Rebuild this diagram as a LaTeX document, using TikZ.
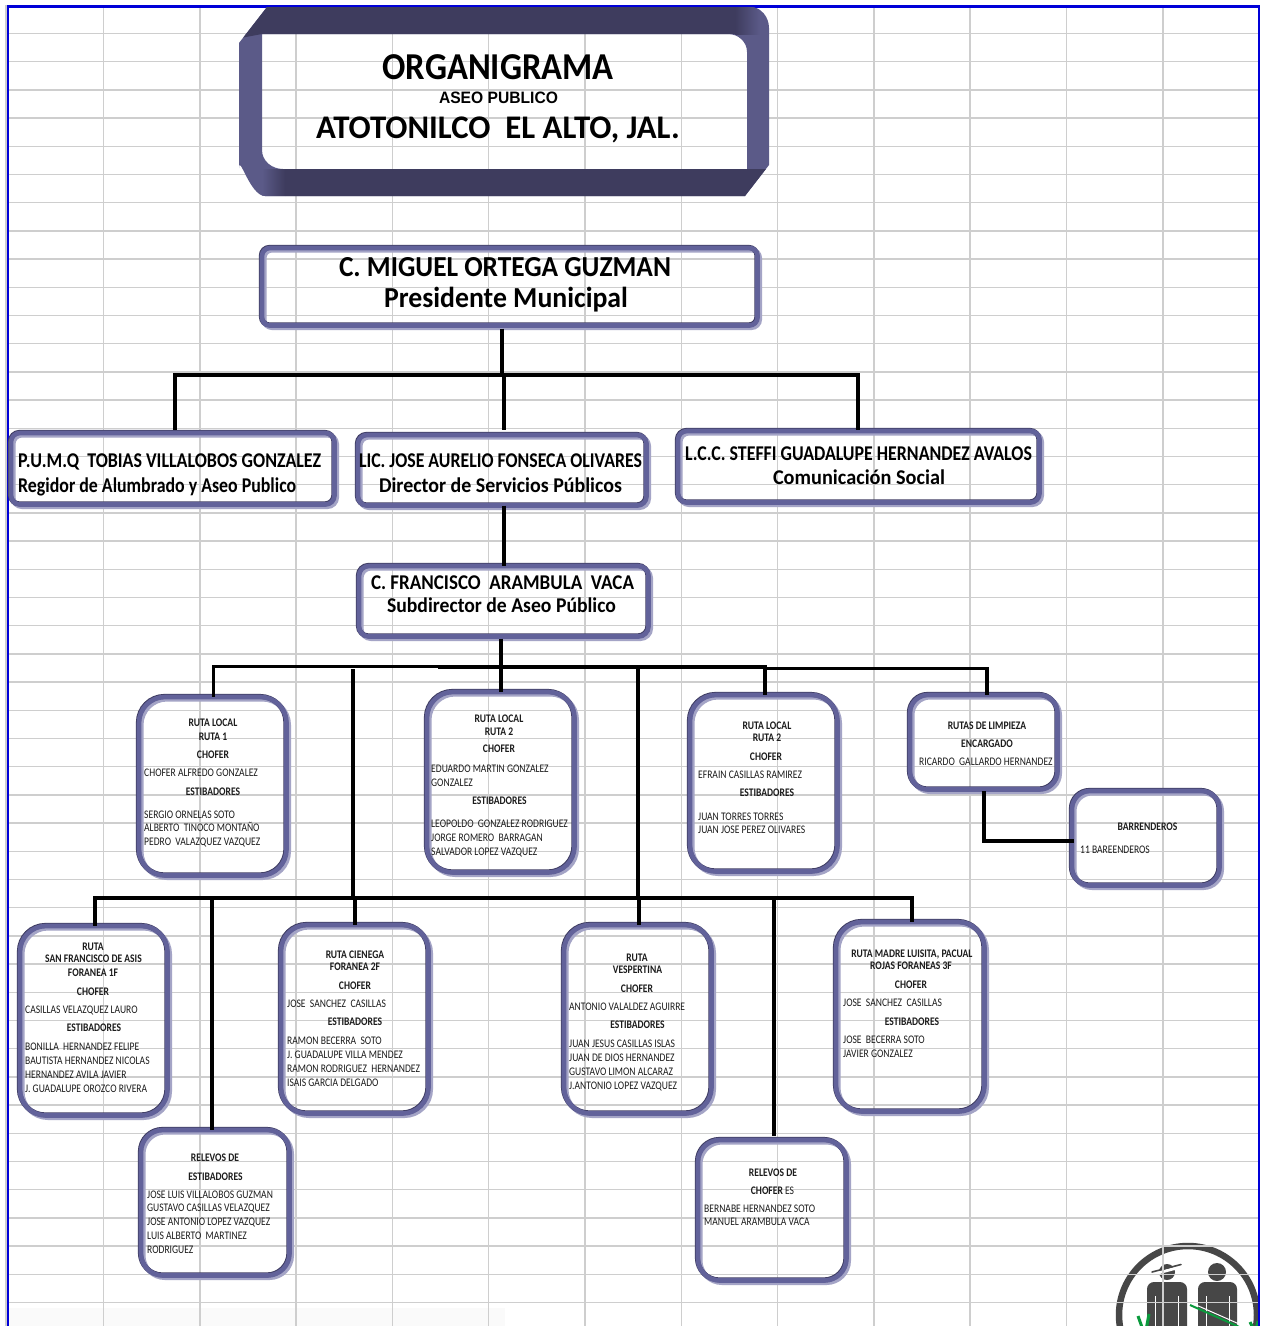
\documentclass[tikz,border=0pt]{standalone}
\usepackage{fontspec}
\setmainfont{Carlito}
\newfontfamily\smallf[FakeStretch=0.825]{Carlito}
\newfontfamily\arialf{Liberation Sans}
\definecolor{gridc}{HTML}{CECECE}
\definecolor{blueb}{HTML}{0000D8}
\definecolor{boxm}{HTML}{62629A}
\definecolor{boxd}{HTML}{3F3D63}
\definecolor{boxs}{HTML}{A4A4C6}
\definecolor{bandl}{HTML}{5B5A88}
\definecolor{bandd}{HTML}{3E3C5E}
\definecolor{inkc}{HTML}{1C1C1C}
\definecolor{logoc}{HTML}{474747}
\definecolor{logog}{HTML}{0A9A3C}
\newcount\tcnt
\newsavebox\fitbox
% stretch text to an exact width
\newcommand\fitw[2]{\sbox\fitbox{#2}\pgfmathsetmacro\fitr{#1/\the\wd\fitbox}\scalebox{\fitr}[1]{\usebox\fitbox}}
% headings: \hd{anchor}{x}{y of cap centre}{width}{size}{text}
\newcommand\hd[6]{\global\advance\tcnt by 1\pgfmathsetmacro\hy{#3+.32*#5}\node[anchor=#1,inner sep=0pt,text=black] (t\the\tcnt) at (#2,\hy) {\fontsize{#5}{#5}\selectfont\bfseries\fitw{#4}{#6}};}
% small lines
\newcommand\lnb[3]{\global\advance\tcnt by 1\pgfmathsetmacro\hy{#2+3.7}\node[smalltext,font=\fontsize{11.6}{12}\smallf\bfseries] (t\the\tcnt) at (#1,\hy) {#3};}
\newcommand\lnr[3]{\global\advance\tcnt by 1\pgfmathsetmacro\hy{#2+3.7}\node[smalltext,anchor=base west,font=\fontsize{11.6}{12}\smallf] (t\the\tcnt) at (#1,\hy) {#3};}
% boxes: \bx{name}{x1}{y1}{x2}{y2}{radius}
\newcommand\bx[6]{%
 \pgfmathsetmacro\xa{#2+3}\pgfmathsetmacro\ya{#3+3}\pgfmathsetmacro\xb{#4-4.5}\pgfmathsetmacro\yb{#5-4.5}%
 \pgfmathsetmacro\xc{(\xa+\xb)/2}\pgfmathsetmacro\yc{(\ya+\yb)/2}%
 \pgfmathsetmacro\wid{\xb-\xa}\pgfmathsetmacro\hei{\yb-\ya}%
 \draw[boxs,line width=5pt,rounded corners=#6pt] (\xa+2,\ya+2) rectangle (\xb+2,\yb+2);
 \draw[boxd,line width=5pt,rounded corners=#6pt] (\xa-.6,\ya-.6) rectangle (\xb-.6,\yb-.6);
 \node[boxnode,rounded corners=#6pt,minimum width=\wid pt,minimum height=\hei pt] (#1) at (\xc,\yc) {};
}
\tikzset{
 boxnode/.style={draw=boxm,line width=4.6pt,inner sep=0pt,outer sep=0pt,fill=none,shape=rectangle},
 smalltext/.style={inner sep=0pt,anchor=base,text=inkc},
 conn/.style={draw=black,line width=3.4pt},
 connthin/.style={draw=black,line width=3.2pt},
 gridl/.style={draw=gridc,line width=1.5pt},
 logol/.style={draw=logoc,line cap=round},
}
\begin{document}
\begin{tikzpicture}[x=1pt,y=-1pt]
\useasboundingbox (0,0) rectangle (1261,1326);
\fill[white] (0,0) rectangle (1261,1326);
% logo
\begin{scope}
 \clip (0,0) rectangle (1259,1326);
 \draw[logoc,line width=6.5pt] (1188,1315) circle (69);
 % left person
 \fill[logoc] (1167,1272) circle (8);
 \draw[white,line width=3pt] (1152,1274.5) -- (1182,1266.5);
 \draw[logol,line width=1.6pt] (1152,1272) -- (1181,1264.5);
 \fill[logoc,rounded corners=7pt] (1147,1340) -- (1147,1282) -- (1187,1282) -- (1187,1340) -- cycle;
 \draw[white,line width=1pt] (1155,1296) -- (1155,1330);
 \draw[white,line width=1pt] (1178,1296) -- (1178,1330);
 % right person
 \fill[logoc] (1217,1272) circle (9);
 \fill[logoc,rounded corners=7pt] (1198,1340) -- (1198,1282) -- (1237,1282) -- (1237,1340) -- cycle;
 \draw[white,line width=1pt] (1206,1296) -- (1206,1330);
 \draw[white,line width=1pt] (1229,1296) -- (1229,1330);
 % green marks
 \draw[logog,line width=2pt] (1190,1305) -- (1246,1330);
 \draw[white,line width=1pt] (1195,1304.5) -- (1246,1327);
 \draw[logog,line width=3pt] (1138,1316) -- (1143,1330);
 \draw[logog,line width=3pt] (1149,1314) -- (1146,1330);
 \draw[logog,line width=3pt] (1250,1322) -- (1254,1330);
 \draw[logog,line width=3pt] (1258,1321) -- (1256,1330);
\end{scope}
% faint band at the foot
\fill[black!2] (9,1308) rectangle (505,1326);
% grid
\foreach \i in {0,...,46}{\draw[gridl] (6,5.3+28.2*\i) -- (1259,5.3+28.2*\i);}
\foreach \i in {0,...,11}{\draw[gridl] (103.5+96.3*\i,5) -- (103.5+96.3*\i,1326);}
\draw[gridl] (6,5) -- (6,1326);
% page frame
\draw[blueb,line width=2.2pt] (8,1326) -- (8,6.5) -- (1259,6.5) -- (1259,1326);
% title frame
\begin{scope}
 \clip (267,7) -- (750,7) to[out=0,in=90] (769,28) -- (769,165) -- (745,196) -- (265,196) to[out=180,in=90] (239,168) -- (239,43) -- cycle
       (262,34) -- (262,150) to[out=270,in=180] (283,169) -- (747,169) -- (747,52) to[out=90,in=0] (728,34) -- cycle;
 \fill[bandl] (230,0) rectangle (780,200);
 \fill[bandd] (230,0) -- (735,0) -- (735,34) -- (262,34) -- (230,40) -- cycle;
 \shade[left color=bandd,right color=bandl] (735,0) rectangle (760,34);
 \fill[bandd] (285,169) rectangle (780,200);
 \shade[left color=bandl,right color=bandd] (262,169) rectangle (285,200);
\end{scope}
% boxes
\bx{pres}{259}{245}{762}{330}{8}
\bx{regidor}{8}{430}{339}{509}{9}
\bx{director}{355}{432}{651}{510}{9}
\bx{social}{675}{428}{1044}{507}{9}
\bx{subdir}{356}{563}{653}{641}{10}
\bx{rutaA}{136}{694}{291}{880}{26}
\bx{rutaB}{424}{689}{579}{877}{26}
\bx{rutaC}{687}{692}{842}{876}{26}
\bx{limpieza}{907}{692}{1062}{794}{18}
\bx{barr}{1069}{788}{1224}{890}{18}
\bx{sanfran}{17}{923}{172}{1120}{26}
\bx{cienega}{278}{922}{433}{1118}{26}
\bx{vesper}{561}{922}{716}{1118}{26}
\bx{madre}{833}{919}{989}{1116}{26}
\bx{relest}{138}{1127}{294}{1280}{22}
\bx{relcho}{695}{1137}{851}{1285}{22}
% junctions
\coordinate (jA) at (502,375);
\coordinate (jC) at (353,898);
\coordinate (jD) at (638,898);
% connectors, upper tree
\draw[conn,shorten <=3pt] (pres.south -| jA) -- (jA);
\coordinate (dA) at (175,375);
\coordinate (dB) at (504,375);
\coordinate (dC) at (858,375);
\draw[conn,line cap=rect] (dA) -- (dC);
\draw[conn,shorten >=3pt] (dA) -- (dA |- regidor.north);
\draw[conn,shorten >=5pt] (dB) -- (dB |- director.north);
\draw[conn,shorten >=1pt] (dC) -- (dC |- social.north);
\draw[conn] (dB |- director.south) -- (dB |- subdir.north);
\coordinate (dS) at (501,667);
\draw[conn,shorten <=2pt] (dS |- subdir.south) -- (dS);
% branch bar
\coordinate (bA) at (213.5,666.2);
\coordinate (bB) at (440,667);
\coordinate (bC) at (765,667);
\coordinate (bD) at (987,668.2);
\draw[connthin,line cap=rect] (bA) -- (bB |- bA);
\draw[conn,line cap=rect] (bB) -- (bC);
\draw[connthin,line cap=rect] (bC |- bD) -- (bD);
\draw[connthin] (bA) -- (bA |- rutaA.north);
\draw[conn] (dS) -- (dS |- rutaB.north);
\draw[conn] (bC) -- (bC |- rutaC.north);
\draw[connthin] (bD) -- (bD |- limpieza.north);
\coordinate (uC) at (353,669);
\coordinate (uD) at (638,668);
\draw[conn] (uC) -- (jC);
\draw[conn] (uD) -- (jD);
% lower bar
\coordinate (lA) at (95,898);
\coordinate (lB) at (212,898);
\coordinate (lC) at (355,898);
\coordinate (lD) at (639,898);
\coordinate (lE) at (774,898);
\coordinate (lF) at (912,898);
\draw[conn,line cap=rect] (lA) -- (lF);
\draw[conn] (lA) -- (lA |- sanfran.north);
\draw[conn] (lB) -- (lB |- relest.north);
\draw[conn] (lC) -- (lC |- cienega.north);
\draw[conn] (lD) -- (lD |- vesper.north);
\draw[conn,shorten >=4pt] (lE) -- (lE |- relcho.north);
\draw[conn] (lF) -- (lF |- madre.north);
% limpieza to barrenderos
\coordinate (kA) at (984,841);
\draw[conn,line cap=rect,shorten <=3pt] (kA |- limpieza.south) -- (kA) -- (barr.west |- kA);
% title text
\global\tcnt=0
\hd{base}{498}{67}{231}{38}{ORGANIGRAMA}
\node[inner sep=0pt,anchor=base,text=black] (aseo) at (498.5,103.5) {\fontsize{16.5}{17}\arialf\bfseries\fitw{119}{ASEO PUBLICO}};
\hd{base}{498}{128}{364}{33}{ATOTONILCO\ \ EL ALTO, JAL.}
\hd{base}{505}{267.5}{332}{29}{C. MIGUEL ORTEGA GUZMAN}
\hd{base}{506}{298}{244}{29}{Presidente Municipal}
\hd{base west}{18}{460.5}{303}{21}{P.U.M.Q\ \ TOBIAS VILLALOBOS GONZALEZ}
\hd{base west}{18}{485.5}{278}{21}{Regidor de Alumbrado y Aseo Publico}
\hd{base}{500.5}{461}{283}{21}{LIC. JOSE AURELIO FONSECA OLIVARES}
\hd{base}{500.5}{486}{243}{21}{Director de Servicios Públicos}
\hd{base}{858.5}{453.5}{347}{21}{L.C.C. STEFFI GUADALUPE HERNANDEZ AVALOS}
\hd{base}{859}{478}{172}{21}{Comunicación Social}
\hd{base}{502.5}{582.5}{263}{21}{C. FRANCISCO\ \ ARAMBULA\ \ VACA}
\hd{base}{501.5}{606}{229}{21}{Subdirector de Aseo Público}
% ruta local 1
\lnb{213}{723}{RUTA LOCAL}\lnb{213}{736.5}{RUTA 1}\lnb{213}{755}{CHOFER}
\lnr{144}{772.5}{CHOFER ALFREDO GONZALEZ}\lnb{213}{791.5}{ESTIBADORES}
\lnr{144}{814.5}{SERGIO ORNELAS SOTO}\lnr{144}{827.5}{ALBERTO\ \ TINOCO MONTAÑO}\lnr{144}{841.5}{PEDRO\ \ VALAZQUEZ VAZQUEZ}
% ruta local 2
\lnb{499}{718.5}{RUTA LOCAL}\lnb{499}{731.5}{RUTA 2}\lnb{499}{749}{CHOFER}
\lnr{431}{768.5}{EDUARDO MARTIN GONZALEZ}\lnr{431}{782.5}{GONZALEZ}\lnb{499.5}{800.5}{ESTIBADORES}
\lnr{431}{823.5}{LEOPOLDO\ \ GONZALEZ RODRIGUEZ}\lnr{431}{837.5}{JORGE ROMERO\ \ BARRAGAN}\lnr{431}{851.5}{SALVADOR LOPEZ VAZQUEZ}
% ruta local 3
\lnb{767}{725.5}{RUTA LOCAL}\lnb{767}{737.5}{RUTA 2}\lnb{766}{756.5}{CHOFER}
\lnr{698}{774.5}{EFRAIN CASILLAS RAMIREZ}\lnb{767}{792.5}{ESTIBADORES}
\lnr{698}{816.5}{JUAN TORRES TORRES}\lnr{698}{829.5}{JUAN JOSE PEREZ OLIVARES}
% limpieza
\lnb{987}{725.5}{RUTAS DE LIMPIEZA}\lnb{987}{743.5}{ENCARGADO}\lnr{919}{761.5}{RICARDO\ \ GALLARDO HERNANDEZ}
% barrenderos
\lnb{1147.5}{826.5}{BARRENDEROS}\lnr{1080}{849.5}{11 BAREENDEROS}
% san francisco
\lnb{93}{946.5}{RUTA}\lnb{93.5}{958.5}{SAN FRANCISCO DE ASIS}\lnb{93}{972.5}{FORANEA 1F}\lnb{93}{991.5}{CHOFER}
\lnr{25}{1009.5}{CASILLAS VELAZQUEZ LAURO}\lnb{94}{1027.5}{ESTIBADORES}
\lnr{25}{1046.5}{BONILLA\ \ HERNANDEZ FELIPE}\lnr{25}{1060.5}{BAUTISTA HERNANDEZ NICOLAS}\lnr{25}{1074.5}{HERNANDEZ AVILA JAVIER}\lnr{25}{1088.5}{J. GUADALUPE OROZCO RIVERA}
% cienega
\lnb{355}{954.5}{RUTA CIENEGA}\lnb{355}{966.5}{FORANEA 2F}\lnb{355}{985.5}{CHOFER}
\lnr{287}{1003.5}{JOSE\ \ SANCHEZ\ \ CASILLAS}\lnb{355}{1021.5}{ESTIBADORES}
\lnr{287}{1040.5}{RAMON BECERRA\ \ SOTO}\lnr{287}{1054.5}{J. GUADALUPE VILLA MENDEZ}\lnr{287}{1068.5}{RAMON RODRIGUEZ\ \ HERNANDEZ}\lnr{287}{1082.5}{ISAIS GARCIA DELGADO}
% relevos estibadores
\lnb{215}{1157.5}{RELEVOS DE}\lnb{215.5}{1176.5}{ESTIBADORES}
\lnr{147}{1194.5}{JOSE LUIS VILLALOBOS GUZMAN}\lnr{147}{1207.5}{GUSTAVO CASILLAS VELAZQUEZ}\lnr{147}{1221.5}{JOSE ANTONIO LOPEZ VAZQUEZ}\lnr{147}{1235.5}{LUIS ALBERTO\ \ MARTINEZ}\lnr{147}{1249.5}{RODRIGUEZ}
% vespertina
\lnb{637}{957.5}{RUTA}\lnb{637.5}{969.5}{VESPERTINA}\lnb{637}{988.5}{CHOFER}
\lnr{569}{1006.5}{ANTONIO VALALDEZ AGUIRRE}\lnb{637.5}{1024.5}{ESTIBADORES}
\lnr{569}{1043.5}{JUAN JESUS CASILLAS ISLAS}\lnr{569}{1057.5}{JUAN DE DIOS HERNANDEZ}\lnr{569}{1071.5}{GUSTAVO LIMON ALCARAZ}\lnr{569}{1085.5}{J.ANTONIO LOPEZ VAZQUEZ}
% madre
\lnb{912}{953.5}{RUTA MADRE LUISITA, PACUAL}\lnb{911}{965.5}{ROJAS FORANEAS 3F}\lnb{911}{984.5}{CHOFER}
\lnr{843}{1002.5}{JOSE\ \ SANCHEZ\ \ CASILLAS}\lnb{912}{1021.5}{ESTIBADORES}
\lnr{843}{1039.5}{JOSE\ \ BECERRA SOTO}\lnr{843}{1053.5}{JAVIER GONZALEZ}
% relevos chofer
\lnb{773}{1172.5}{RELEVOS DE}
\global\advance\tcnt by 1
\pgfmathsetmacro\hy{1190.5+3.7}
\node[smalltext,font=\fontsize{11.6}{12}\smallf] (t\the\tcnt) at (772.5,\hy) {\textbf{CHOFER} ES};
\lnr{704}{1208.5}{BERNABE HERNANDEZ SOTO}\lnr{704}{1221.5}{MANUEL ARAMBULA VACA}
\end{tikzpicture}
\end{document}
